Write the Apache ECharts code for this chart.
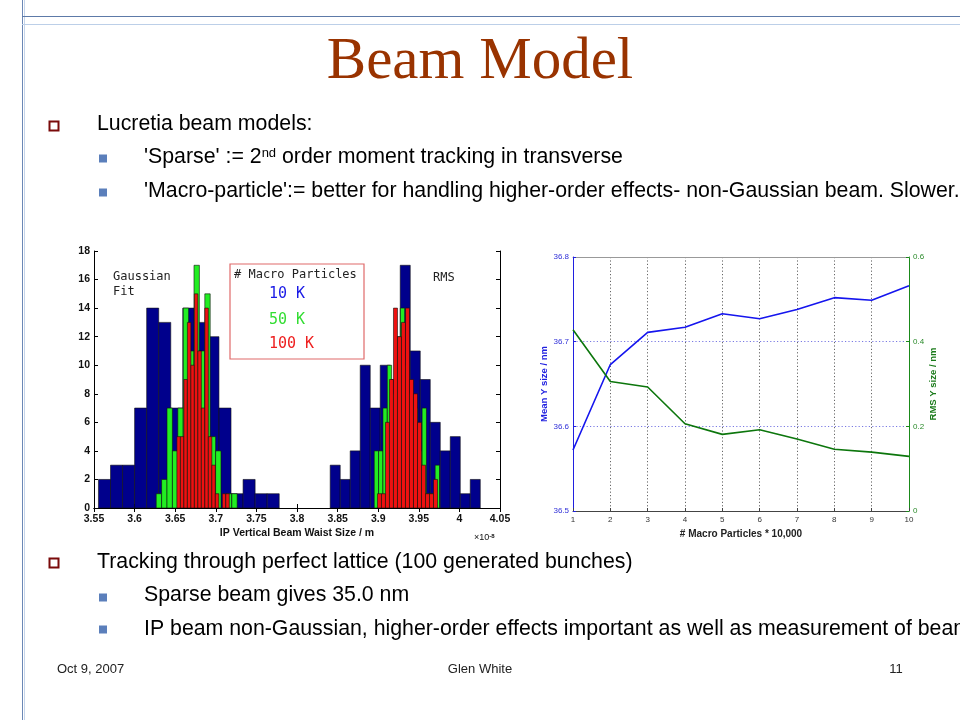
<!DOCTYPE html>
<html><head><meta charset="utf-8">
<script src="https://cdn.jsdelivr.net/npm/echarts/dist/echarts.min.js"></script>
<style>html,body{margin:0;padding:0;background:#fff}#c{width:960px;height:720px}</style>
</head><body><div id="c"></div>
<script>
// ---------- Histogram data (x in units of 1e-8 m, 15 bins each, 100 bunches) ----------
const gaussBlueStart = 3.5555, gaussBlueWidth = 0.01484;
const gaussBlueCounts = [2,3,3,7,14,13,7,14,13,12,7,1,2,1,1];
const gaussGreenStart = 3.6266, gaussGreenWidth = 0.00665;
const gaussGreenCounts = [1,2,7,4,7,14,11,17,11,15,5,4,0,1,1];
const gaussRedStart = 3.6521, gaussRedWidth = 0.0043;
const gaussRedCounts = [5,5,9,13,10,15,11,7,14,5,3,1,0,1,1];
const rmsBlueStart = 3.8409, rmsBlueWidth = 0.01232;
const rmsBlueCounts = [3,2,4,10,7,10,9,17,11,9,6,4,5,1,2];
const rmsGreenStart = 3.8951, rmsGreenWidth = 0.00536;
const rmsGreenCounts = [4,4,7,10,8,12,14,10,8,7,4,7,1,1,3];
const rmsRedStart = 3.8991, rmsRedWidth = 0.00493;
const rmsRedCounts = [1,1,6,9,14,12,13,14,9,8,6,3,1,1,2];
const histXTicks = {min: 3.55, max: 4.05, interval: 0.05};
const histYTicks = {min: 0, max: 18, interval: 2};

// ---------- Line chart data ----------
const macroParticles = [1,2,3,4,5,6,7,8,9,10];
const meanYSize = [36.572,36.673,36.711,36.717,36.733,36.727,36.738,36.752,36.749,36.766];
const rmsYSize = [0.428,0.306,0.293,0.206,0.181,0.192,0.170,0.146,0.139,0.129];

const legendLabels = ['10 K','50 K','100 K'];
const legendColors = ['#1a1ae6','#33dd33','#ee2020'];
const histColors = ['#00008c','#22ee22','#ee1111'];

function bins(start, width, counts){
  return counts.map((c,i)=>[start+i*width, start+(i+1)*width, c]).filter(d=>d[2]>0);
}
function barRenderer(color){
  return function(params, api){
    const p0 = api.coord([api.value(0), 0]);
    const p1 = api.coord([api.value(1), api.value(2)]);
    return {type:'rect', shape:{x:p0[0], y:p1[1], width:p1[0]-p0[0], height:p0[1]-p1[1]},
      style:{fill:color, stroke:'#111', lineWidth:0.6}};
  };
}
function histSeries(name, start, width, counts, color){
  return {type:'custom', name, xAxisIndex:0, yAxisIndex:0, renderItem:barRenderer(color),
    encode:{x:[0,1], y:2}, data:bins(start,width,counts), clip:true, silent:true};
}

const SANS = '"Liberation Sans", Arial, sans-serif';
const MONO = '"DejaVu Sans Mono", monospace';
const chart = echarts.init(document.getElementById('c'), null, {renderer:'canvas'});

function txt(x, y, text, font, fill, align, extra){
  return Object.assign({type:'text', x, y, silent:true, z:100,
    style:Object.assign({text, font, fill, align:align||'left', verticalAlign:'middle'}, extra||{})});
}
function hollow(x,y){ return {type:'rect', silent:true, shape:{x:x-4.5,y:y-4.5,width:9,height:9}, style:{fill:'#fff', stroke:'#7a0a0a', lineWidth:2}}; }
function filled(x,y){ return {type:'rect', silent:true, shape:{x:x-4,y:y-4,width:8,height:8}, style:{fill:'#5b7fbb'}}; }

const bodyFont = '21.3px ' + SANS;
const graphics = [
  {type:'line', silent:true, shape:{x1:22.5,y1:0,x2:22.5,y2:720}, style:{stroke:'#6b87b5', lineWidth:1}},
  {type:'line', silent:true, shape:{x1:24.5,y1:0,x2:24.5,y2:720}, style:{stroke:'#c6d5ea', lineWidth:1}},
  {type:'line', silent:true, shape:{x1:22,y1:16.5,x2:960,y2:16.5}, style:{stroke:'#5d7aa8', lineWidth:1}},
  {type:'line', silent:true, shape:{x1:22,y1:24.5,x2:960,y2:24.5}, style:{stroke:'#bccfe8', lineWidth:1}},
  txt(480, 62, 'Beam Model', '59px "Liberation Serif", "Times New Roman", serif', '#993300', 'center'),
  hollow(54,126), txt(97, 124, 'Lucretia beam models:', bodyFont, '#000'),
  filled(103,158.5),
  txt(144, 157, "'Sparse' := 2{sup|nd} order moment tracking in transverse", bodyFont, '#000', 'left',
      {rich:{sup:{font:'13px '+SANS, fill:'#000', verticalAlign:'top', lineHeight:21}}}),
  filled(103,192.5), txt(144, 191, "'Macro-particle':= better for handling higher-order effects- non-Gaussian beam. Slower.", bodyFont, '#000'),
  hollow(54,563), txt(97, 562, 'Tracking through perfect lattice (100 generated bunches)', bodyFont, '#000'),
  filled(103,597.5), txt(144, 595, 'Sparse beam gives 35.0 nm', bodyFont, '#000'),
  filled(103,629.5), txt(144, 629, 'IP beam non-Gaussian, higher-order effects important as well as measurement of beam', bodyFont, '#000'),
  txt(57, 669, 'Oct 9, 2007', '13px '+SANS, '#222'),
  txt(480, 669, 'Glen White', '13px '+SANS, '#222', 'center'),
  txt(896, 669, '11', '13px '+SANS, '#222', 'center'),
  // histogram annotations
  txt(113, 277, 'Gaussian', '12px '+MONO, '#222'),
  txt(113, 292, 'Fit', '12px '+MONO, '#222'),
  txt(433, 278, 'RMS', '12px '+MONO, '#222'),
  {type:'rect', silent:true, z:90, shape:{x:230,y:264,width:134,height:95}, style:{fill:'#fff', stroke:'#e06a6a', lineWidth:1.2}},
  txt(234, 275, '# Macro Particles', '12px '+MONO, '#222'),
  txt(269, 294, legendLabels[0], '15px '+MONO, legendColors[0]),
  txt(269, 320, legendLabels[1], '15px '+MONO, legendColors[1]),
  txt(269, 344, legendLabels[2], '15px '+MONO, legendColors[2]),
  txt(474, 538, '\u00d710{s|-8}', '9px '+SANS, '#111', 'left', {rich:{s:{font:'bold 6px '+SANS, fill:'#111', verticalAlign:'top', lineHeight:9}}})
];

const boldLbl = {fontFamily:SANS, fontWeight:'bold', fontSize:10.5, color:'#111'};
const option = {
  animation:false,
  backgroundColor:'#fff',
  textStyle:{fontFamily:SANS},
  grid:[
    {left:94, top:251, width:406, height:257, outerBoundsMode:'none', containLabel:false},
    {left:573, top:257, width:336, height:254, outerBoundsMode:'none', containLabel:false}
  ],
  xAxis:[
    {gridIndex:0, type:'value', position:'bottom', min:histXTicks.min, max:histXTicks.max, interval:histXTicks.interval,
     axisLine:{lineStyle:{color:'#000', width:1}}, axisTick:{inside:true, length:4, lineStyle:{color:'#000'}},
     axisLabel:Object.assign({margin:6, showMinLabel:true, showMaxLabel:true}, boldLbl), splitLine:{show:false},
     name:'IP Vertical Beam Waist Size / m', nameLocation:'middle', nameGap:20,
     nameTextStyle:{fontFamily:SANS, fontWeight:'bold', fontSize:10.5, color:'#111'}},
    {gridIndex:0, type:'value', position:'top', min:histXTicks.min, max:histXTicks.max, interval:histXTicks.interval,
     axisLine:{lineStyle:{color:'#000', width:1}}, axisTick:{inside:true, length:4, lineStyle:{color:'#000'}},
     axisLabel:{show:false}, splitLine:{show:false}},
    {gridIndex:1, type:'value', position:'bottom', min:1, max:10, interval:1,
     axisLine:{lineStyle:{color:'#444', width:1}}, axisTick:{inside:true, length:3, lineStyle:{color:'#444'}},
     axisLabel:{fontFamily:SANS, fontSize:8, color:'#333', margin:5, showMinLabel:true, showMaxLabel:true},
     splitLine:{show:true, showMinLine:false, showMaxLine:false, lineStyle:{type:[1.2,2.2], color:'#555', width:0.9}},
     name:'# Macro Particles * 10,000', nameLocation:'middle', nameGap:18,
     nameTextStyle:{fontFamily:SANS, fontWeight:'bold', fontSize:10, color:'#222'}},
    {gridIndex:1, type:'value', position:'top', min:1, max:10, interval:1,
     axisLine:{lineStyle:{color:'#999', width:1}}, axisTick:{show:false}, axisLabel:{show:false}, splitLine:{show:false}}
  ],
  yAxis:[
    {gridIndex:0, type:'value', position:'left', min:histYTicks.min, max:histYTicks.max, interval:histYTicks.interval,
     axisLine:{show:true, lineStyle:{color:'#000', width:1}}, axisTick:{show:true, inside:true, length:4, lineStyle:{color:'#000'}},
     axisLabel:Object.assign({margin:4}, boldLbl), splitLine:{show:false}},
    {gridIndex:0, type:'value', position:'right', min:histYTicks.min, max:histYTicks.max, interval:histYTicks.interval,
     axisLine:{show:true, lineStyle:{color:'#000', width:1}}, axisTick:{show:true, inside:true, length:4, lineStyle:{color:'#000'}},
     axisLabel:{show:false}, splitLine:{show:false}},
    {gridIndex:1, type:'value', position:'left', min:36.5, max:36.8, interval:0.1,
     axisLine:{show:true, lineStyle:{color:'#2020e0', width:1}}, axisTick:{show:true, inside:true, length:3, lineStyle:{color:'#2020e0'}},
     axisLabel:{fontFamily:SANS, fontSize:8, color:'#3030d8', margin:4, showMinLabel:true, showMaxLabel:true},
     splitLine:{show:true, showMinLine:false, showMaxLine:false, lineStyle:{type:[1.2,2.2], color:'#6a6ae0', width:0.9}},
     name:'Mean Y size / nm', nameLocation:'middle', nameGap:24, nameRotate:90,
     nameTextStyle:{fontFamily:SANS, fontWeight:'bold', fontSize:9.5, color:'#2020e0'}},
    {gridIndex:1, type:'value', position:'right', min:0, max:0.6, interval:0.2,
     axisLine:{show:true, lineStyle:{color:'#1a8a1a', width:1}}, axisTick:{show:true, inside:true, length:3, lineStyle:{color:'#1a8a1a'}},
     axisLabel:{fontFamily:SANS, fontSize:8, color:'#2a8a2a', margin:4, showMinLabel:true, showMaxLabel:true},
     splitLine:{show:false},
     name:'RMS Y size / nm', nameLocation:'middle', nameGap:19, nameRotate:90,
     nameTextStyle:{fontFamily:SANS, fontWeight:'bold', fontSize:9.5, color:'#1a7a1a'}}
  ],
  series:[
    histSeries('10K Gaussian', gaussBlueStart, gaussBlueWidth, gaussBlueCounts, histColors[0]),
    histSeries('10K RMS', rmsBlueStart, rmsBlueWidth, rmsBlueCounts, histColors[0]),
    histSeries('50K Gaussian', gaussGreenStart, gaussGreenWidth, gaussGreenCounts, histColors[1]),
    histSeries('50K RMS', rmsGreenStart, rmsGreenWidth, rmsGreenCounts, histColors[1]),
    histSeries('100K Gaussian', gaussRedStart, gaussRedWidth, gaussRedCounts, histColors[2]),
    histSeries('100K RMS', rmsRedStart, rmsRedWidth, rmsRedCounts, histColors[2]),
    {type:'line', name:'Mean Y size', xAxisIndex:2, yAxisIndex:2, showSymbol:false, symbol:'none',
     data:macroParticles.map((x,i)=>[x, meanYSize[i]]), lineStyle:{color:'#1515ee', width:1.6}, itemStyle:{color:'#1515ee'}},
    {type:'line', name:'RMS Y size', xAxisIndex:2, yAxisIndex:3, showSymbol:false, symbol:'none',
     data:macroParticles.map((x,i)=>[x, rmsYSize[i]]), lineStyle:{color:'#0c760c', width:1.6}, itemStyle:{color:'#0c760c'}}
  ],
  graphic:graphics
};
chart.setOption(option);
</script>
</body></html>
